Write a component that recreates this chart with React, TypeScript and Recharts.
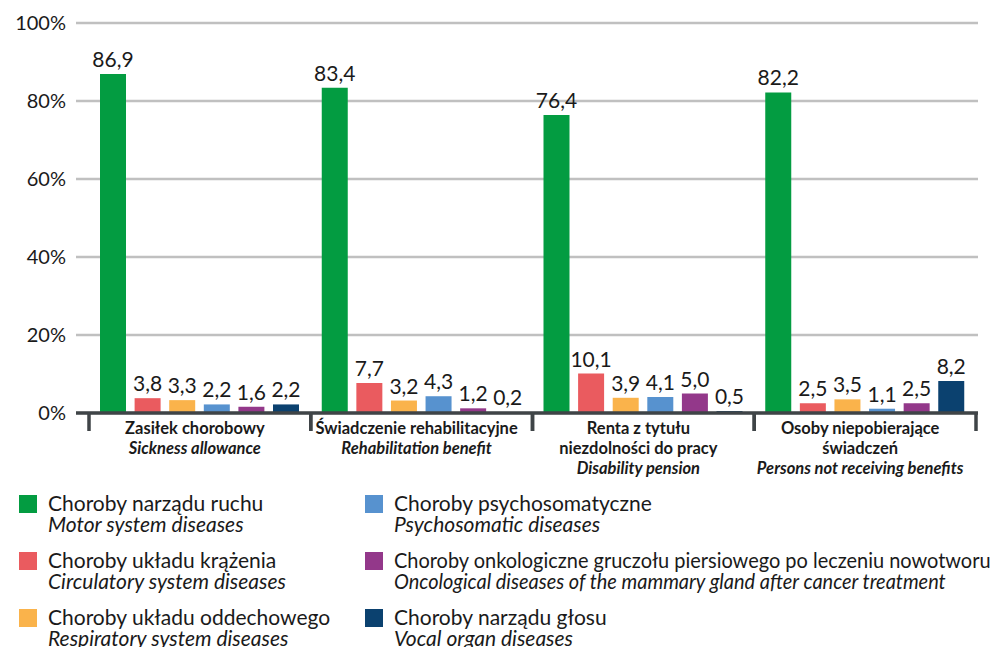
import { BarChart, Bar, XAxis, YAxis, CartesianGrid, LabelList } from 'recharts';

const categoriesPl = [
  ['Zasiłek chorobowy'],
  ['Świadczenie rehabilitacyjne'],
  ['Renta z tytułu', 'niezdolności do pracy'],
  ['Osoby niepobierające', 'świadczeń'],
];
const categoriesEn = [
  'Sickness allowance',
  'Rehabilitation benefit',
  'Disability pension',
  'Persons not receiving benefits',
];

const motor = [86.9, 83.4, 76.4, 82.2];
const circulatory = [3.8, 7.7, 10.1, 2.5];
const respiratory = [3.3, 3.2, 3.9, 3.5];
const psychosomatic = [2.2, 4.3, 4.1, 1.1];
const oncological = [1.6, 1.2, 5.0, 2.5];
const vocal = [2.2, 0.2, 0.5, 8.2];

const yTicks = [0, 20, 40, 60, 80, 100];

const series = [
  { key: 'motor', values: motor, color: '#039c41', pl: 'Choroby narządu ruchu', en: 'Motor system diseases' },
  { key: 'circulatory', values: circulatory, color: '#ea5b5f', pl: 'Choroby układu krążenia', en: 'Circulatory system diseases' },
  { key: 'respiratory', values: respiratory, color: '#fab34b', pl: 'Choroby układu oddechowego', en: 'Respiratory system diseases' },
  { key: 'psychosomatic', values: psychosomatic, color: '#5792cf', pl: 'Choroby psychosomatyczne', en: 'Psychosomatic diseases' },
  { key: 'oncological', values: oncological, color: '#93388a', pl: 'Choroby onkologiczne gruczołu piersiowego po leczeniu nowotworu', en: 'Oncological diseases of the mammary gland after cancer treatment', squeeze: 0.95 },
  { key: 'vocal', values: vocal, color: '#0b416f', pl: 'Choroby narządu głosu', en: 'Vocal organ diseases' },
];

const data = categoriesEn.map((en, i) => {
  const row: Record<string, any> = { name: en, idx: i };
  series.forEach((s) => (row[s.key] = s.values[i]));
  return row;
});

const FONT = 'Lato, "Open Sans", sans-serif';
const AXIS_COLOR = '#3f4447';
const HALF_BAND = (902 - 15) / 4 / 2;

const fmt = (v: any) => Number(v).toFixed(1).replace('.', ',');

function CategoryTick(props: any) {
  const { x, y, index } = props;
  const pl = categoriesPl[index] || [];
  const lines = [...pl.map((t) => ({ t, italic: false })), { t: categoriesEn[index], italic: true }];
  return (
    <g>
      <line x1={x - HALF_BAND} x2={x - HALF_BAND} y1={y} y2={y + 18} stroke={AXIS_COLOR} strokeWidth={3.5} />
      <line x1={x + HALF_BAND} x2={x + HALF_BAND} y1={y} y2={y + 18} stroke={AXIS_COLOR} strokeWidth={3.5} />
      {lines.map((l, i) => (
        <text
          key={i}
          x={x - 5}
          y={y + 21 + i * 20}
          textAnchor="middle"
          fontFamily={FONT}
          fontSize={16.5}
          fontWeight={700}
          fontStyle={l.italic ? 'italic' : 'normal'}
          fill="#1a1a1a"
        >
          {l.t}
        </text>
      ))}
    </g>
  );
}

function LegendItem({ s }: { s: any }) {
  const squeeze = s.squeeze || 1;
  return (
    <div style={{ display: 'flex', alignItems: 'flex-start', height: 57 }}>
      <div style={{ width: 18, height: 18, background: s.color, marginTop: 3, marginRight: 11, flexShrink: 0 }} />
      <div
        style={{
          fontSize: 21,
          lineHeight: '21px',
          color: '#1a1a1a',
          whiteSpace: 'nowrap',
          transform: `scaleX(${squeeze})`,
          transformOrigin: 'left center',
        }}
      >
        <div>{s.pl}</div>
        <div style={{ fontStyle: 'italic' }}>{s.en}</div>
      </div>
    </div>
  );
}

export default function App() {
  return (
    <div style={{ position: 'absolute', left: 0, top: 0, width: 996, height: 647, background: '#fff', fontFamily: FONT, overflow: 'hidden' }}>
      <BarChart
        width={996}
        height={500}
        data={data}
        margin={{ top: 23, right: 18, bottom: 0, left: 0 }}
        barSize={26}
        barGap={8.6}
      >
        <CartesianGrid vertical={false} stroke="#c0c0c0" strokeWidth={2.5} />
        <YAxis
          type="number"
          domain={[0, 100]}
          ticks={yTicks}
          width={76}
          axisLine={false}
          tickLine={false}
          tickSize={0}
          tickMargin={10}
          tickFormatter={(v) => `${v}%`}
          tick={{ fontSize: 20, fill: '#1a1a1a', fontFamily: FONT }}
        />
        {series.map((s) => (
          <Bar key={s.key} dataKey={s.key} fill={s.color} isAnimationActive={false}>
            <LabelList
              dataKey={s.key}
              position="top"
              offset={7}
              formatter={fmt}
              style={{ fontSize: 21, fill: '#1a1a1a', fontFamily: FONT }}
            />
          </Bar>
        ))}
        <XAxis
          dataKey="name"
          height={87}
          padding={{ left: 13, right: 2 }}
          axisLine={{ stroke: AXIS_COLOR, strokeWidth: 3.5 }}
          tickLine={false}
          tickSize={0}
          tickMargin={0}
          interval={0}
          tick={<CategoryTick />}
        />
      </BarChart>
      <div style={{ position: 'absolute', left: 19, top: 492, display: 'flex' }}>
        <div style={{ width: 346 }}>
          {series.slice(0, 3).map((s) => (
            <LegendItem key={s.key} s={s} />
          ))}
        </div>
        <div>
          {series.slice(3).map((s) => (
            <LegendItem key={s.key} s={s} />
          ))}
        </div>
      </div>
    </div>
  );
}
